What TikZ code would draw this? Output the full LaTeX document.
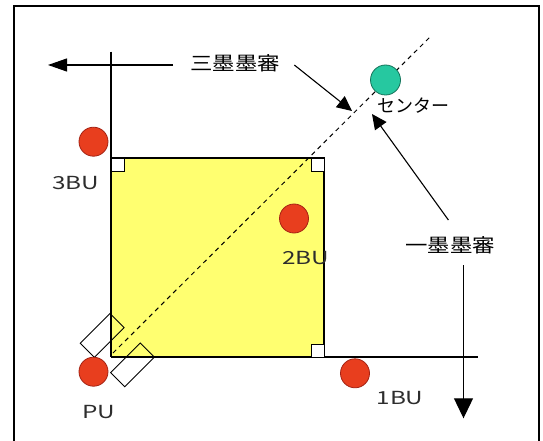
\documentclass[tikz,border=0pt]{standalone}
\usepackage{fontspec}
\setmainfont{Noto Sans CJK JP}
\usetikzlibrary{arrows.meta}
\definecolor{bured}{RGB}{232,62,30}
\definecolor{buredline}{RGB}{165,35,20}
\definecolor{cgreen}{RGB}{38,200,160}
\definecolor{cgreenline}{RGB}{20,115,90}
\definecolor{sqyellow}{RGB}{255,255,112}
\definecolor{txtgray}{RGB}{45,45,45}
\begin{document}
\begin{tikzpicture}[x=1pt,y=-1pt,
  unit/.style={circle,fill=bured,draw=buredline,line width=0.8pt,minimum size=29pt,inner sep=0pt},
  ctr/.style={circle,fill=cgreen,draw=cgreenline,line width=0.8pt,minimum size=30pt,inner sep=0pt},
  lbl/.style={font=\fontsize{18}{18}\selectfont,text=txtgray,inner sep=0pt},
  jlbl/.style={font=\fontsize{19}{19}\selectfont,inner sep=0pt},
  thinline/.style={line width=1.3pt},
  rmark/.style={draw,fill=white,line width=1pt},
  pad/.style={draw,line width=0.9pt},
  diag/.style={line width=1pt,dash pattern=on 4.5pt off 4pt},
  arrL/.style={line width=1.1pt,-{Triangle[length=19pt,width=13pt]}},
  arrD/.style={line width=1.1pt,-{Triangle[length=20pt,width=19pt]}},
  arrS/.style={line width=1.1pt,-{Triangle[length=15pt,width=14pt]}}
]
\useasboundingbox (0,0) rectangle (543,441);
\fill[white] (0,0) rectangle (543,441);
% frame
\draw[line width=2.5pt] (14,441) -- (14,6) -- (539,6) -- (539,441);
% square
\fill[sqyellow] (111,158) rectangle (324,357);
\draw[thinline] (111,51.7) -- (111,357);
\draw[thinline] (111,158) -- (324,158) -- (324,357);
\draw[line width=2.6pt] (111,357) -- (324,357);
\draw[thinline] (324,357) -- (478,357);
% right angle marks
\draw[rmark] (111,158) rectangle (124,171);
\draw[rmark] (311,158) rectangle (324,171);
\draw[rmark] (311,344) rectangle (324,357);
% diagonal
\coordinate (d0) at (113,353);
\coordinate (d1) at (431,36);
\draw[diag] (d0) -- (d1);
% pads at PU corner
\draw[pad] (80.3,343.2) -- (110,313.5) -- (124.1,327.6) -- (94.4,357.3) -- cycle;
\draw[pad] (110.6,372.7) -- (140.3,343) -- (154.4,357.1) -- (124.7,386.8) -- cycle;
% units
\node[unit] (bu3) at (93.5,141.7) {};
\node[unit] (bu2) at (294,218.5) {};
\node[unit] (pu) at (93.5,371.7) {};
\node[unit] (bu1) at (355,373.3) {};
\node[ctr] (cen) at (385.5,80) {};
% labels
\node[lbl] (l3) at (75.8,183.3) {\scalebox{1.35}[1]{3BU}};
\node[lbl] (l2) at (305.6,258.3) {\scalebox{1.35}[1]{2BU}};
\node[lbl] (lpu) at (98.7,412) {\scalebox{1.35}[1]{PU}};
\node[lbl] (l1) at (400,398) {\scalebox{1.35}[1]{1BU}};
\node[jlbl] (j3) at (235,63.3) {\scalebox{1.18}[1]{三墨墨審}};
\node[jlbl] (j1) at (450,245) {\scalebox{1.18}[1]{一墨墨審}};
\node[jlbl,font=\fontsize{18}{18}\selectfont] (jc) at (413,106) {センター};
% arrows
\coordinate (a3s) at (173,65);
\coordinate (a3e) at (48,65);
\draw[arrL] (a3s) -- (a3e);
\coordinate (b1s) at (463.5,265);
\coordinate (b1e) at (463.5,418.3);
\draw[arrD] (b1s) -- (b1e);
\coordinate (p3s) at (294.3,65);
\coordinate (p3e) at (352,111);
\draw[arrS] (p3s) -- (p3e);
\coordinate (p1s) at (448.4,220);
\coordinate (p1e) at (372,114);
\draw[arrS] (p1s) -- (p1e);
\end{tikzpicture}
\end{document}
